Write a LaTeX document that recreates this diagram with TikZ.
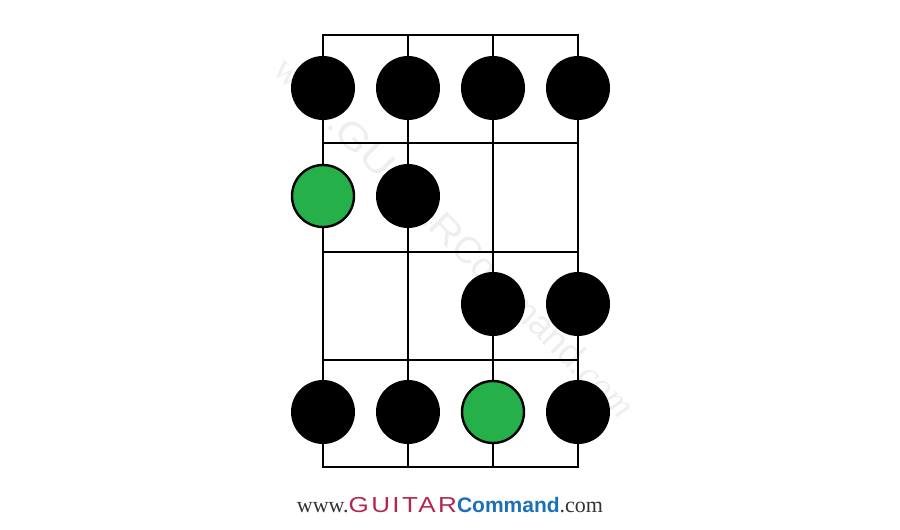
\documentclass[tikz,border=0pt]{standalone}
\usepackage{fontspec}
\setmainfont{Liberation Serif}
\setsansfont{Liberation Sans}
\usetikzlibrary{positioning}
\definecolor{rootgreen}{HTML}{25B04A}
\definecolor{logored}{HTML}{B3264E}
\definecolor{logoblue}{HTML}{1B70B8}
\definecolor{logogray}{HTML}{333333}
\definecolor{marktext}{HTML}{EEEEEE}

\begin{document}
\begin{tikzpicture}[x=1pt,y=-1pt,
  fret/.style={line width=2.6pt,line cap=rect},
  note/.style={circle,fill=black,minimum size=64pt,inner sep=0pt},
  rootnote/.style={circle,draw=black,line width=2.4pt,fill=rootgreen,minimum size=62pt,inner sep=0pt}]
\useasboundingbox (0,0) rectangle (900,530);

% watermark across the board
\node[rotate=-45,text=marktext,font=\sffamily\fontsize{37}{37}\selectfont] (mark) at (455,237)
  {{\rmfamily www.}{\addfontfeature{FakeStretch=1.2}GUITAR}Command{\rmfamily\itshape .com}};

% strings and frets
\draw[fret] (323,35) rectangle (578,467);
\foreach \y in {143,252,360}
  \draw[fret] (323,\y) -- (578,\y);
\foreach \x in {408,493}
  \draw[fret] (\x,35) -- (\x,467);

% scale notes
\node[note] (n11) at (323,88) {};
\node[note] (n12) at (408,88) {};
\node[note] (n13) at (493,88) {};
\node[note] (n14) at (578,88) {};
\node[rootnote] (r21) at (323,196) {};
\node[note] (n22) at (408,196) {};
\node[note] (n33) at (493,304) {};
\node[note] (n34) at (578,304) {};
\node[note] (n41) at (323,412) {};
\node[note] (n42) at (408,412) {};
\node[rootnote] (r43) at (493,412) {};
\node[note] (n44) at (578,412) {};

% site logo
\node[text=logogray,font=\fontsize{22}{22}\selectfont,inner sep=0pt] (logo) at (450,505)
  {www.{\sffamily\color{logored}\addfontfeature{FakeStretch=1.2,LetterSpace=11}\fontsize{21.7}{21.7}\selectfont GUITAR}{\sffamily\bfseries\color{logoblue}\fontsize{21}{21}\selectfont Command}.com};
\end{tikzpicture}
\end{document}
